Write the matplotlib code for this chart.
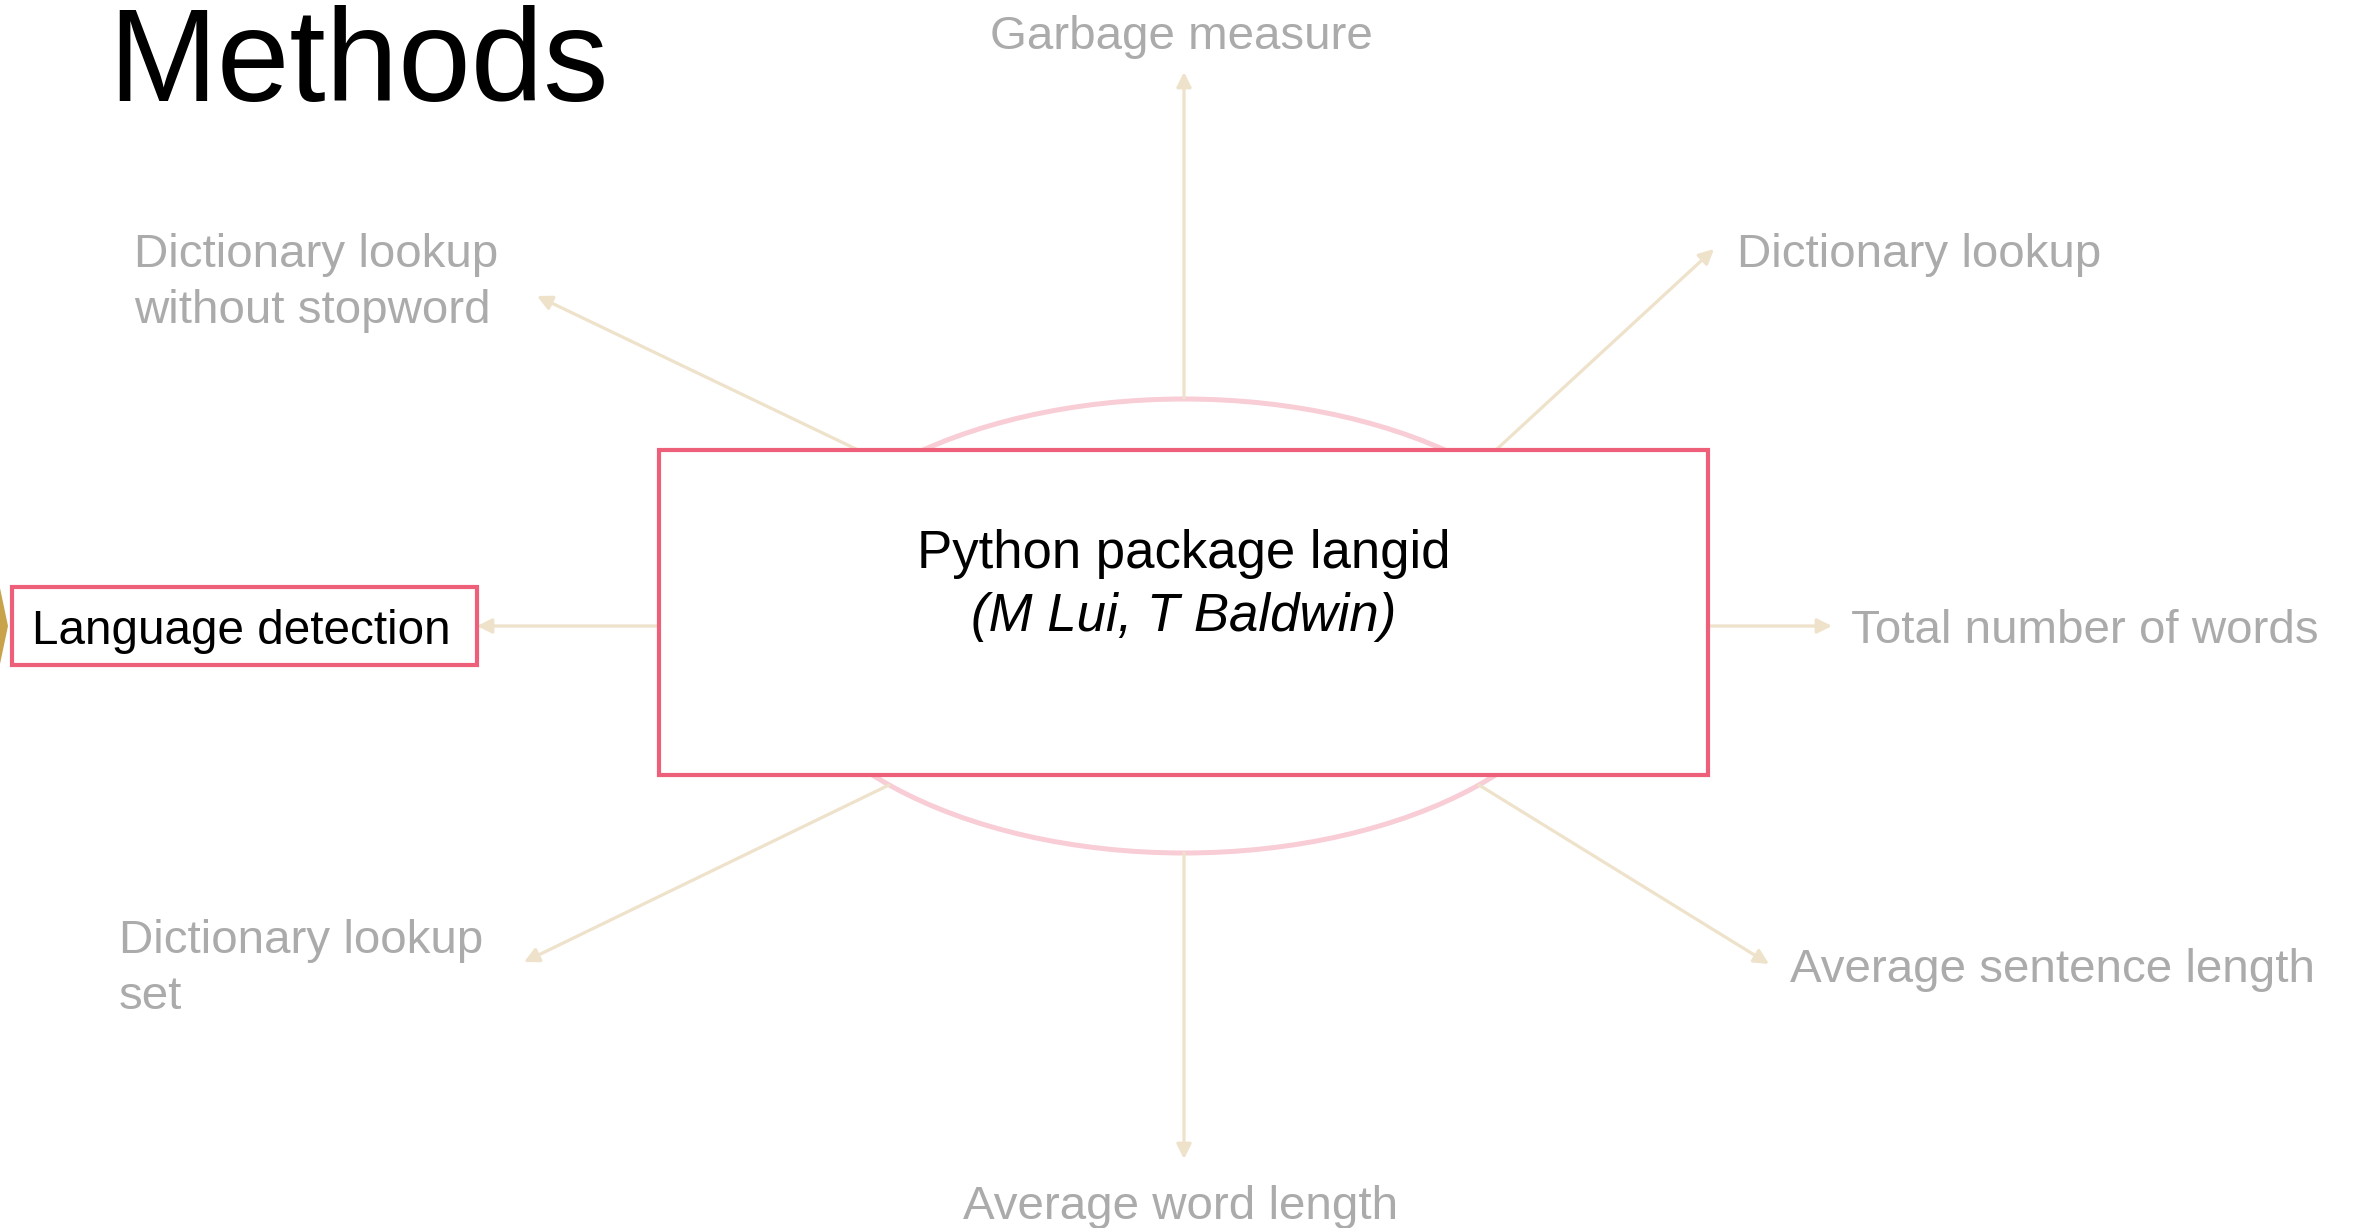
import matplotlib.pyplot as plt
from matplotlib.patches import Ellipse, Rectangle, Polygon

plt.rcParams['font.family'] = ['Liberation Sans', 'DejaVu Sans']

# canvas size in pixels
W, H = 2354, 1228

title = "Methods"
center_lines = ["Python package langid", "(M Lui, T Baldwin)"]
output_label = "Language detection"

# outer labels and where their arrows point (pixel coords, y downwards)
labels = [
    "Garbage measure",
    "Dictionary lookup",
    "Total number of words",
    "Average sentence length",
    "Average word length",
    "Dictionary lookup\nset",
    "Dictionary lookup\nwithout stopword",
]
label_xy = [(1181, 37), (1737, 255), (1851, 631), (1790, 970),
            (1181, 1207), (119, 969), (134, 283)]
label_ha = ["center", "left", "left", "left", "center", "left", "left"]

arrow_start = [(1184, 398), (1497, 449), (1708, 626), (1479, 785),
               (1184, 853), (889, 785), (856, 449)]
arrow_end = [(1184, 72), (1714, 249), (1832, 626), (1769, 964),
             (1184, 1159), (524, 962), (537, 296)]

box = (659, 450, 1049, 325)          # x, y, w, h
ellipse = (1184, 626, 826, 454)      # cx, cy, w, h
out_box = (12, 587, 465, 78)

pink = "#EE6079"
light_pink = "#F8CDD6"
beige = "#EEE2CA"
grey = "#ABABAB"
gold = "#C9A24C"

fig = plt.figure(figsize=(W / 100, H / 100), dpi=100)
ax = fig.add_axes([0, 0, 1, 1])
ax.set_xlim(0, W)
ax.set_ylim(H, 0)
ax.set_axis_off()

ax.add_patch(Ellipse(ellipse[:2], ellipse[2], ellipse[3], fill=False,
                     ec=light_pink, lw=3.6, zorder=1))

for (x0, y0), (x1, y1) in zip(arrow_start, arrow_end):
    ax.annotate("", xy=(x1, y1), xytext=(x0, y0),
                arrowprops=dict(arrowstyle='-|>', color=beige, lw=2.3,
                                mutation_scale=22, shrinkA=0, shrinkB=0),
                zorder=2)

# left arrow into the output box
ax.annotate("", xy=(out_box[0] + out_box[2], 626), xytext=(box[0], 626),
            arrowprops=dict(arrowstyle='-|>', color=beige, lw=2.3,
                            mutation_scale=22, shrinkA=0, shrinkB=0),
            zorder=2)

ax.add_patch(Rectangle(box[:2], box[2], box[3], fc='white', ec=pink,
                       lw=3.0, zorder=3))
ax.add_patch(Rectangle(out_box[:2], out_box[2], out_box[3], fc='white',
                       ec=pink, lw=3.0, zorder=3))
ax.add_patch(Polygon([(-20, 588), (0, 588), (8, 626), (0, 664), (-20, 664)],
                     closed=True, fc=gold, ec='none', zorder=3))

ax.text(108, 66, title, fontsize=94, ha='left', va='center', color='black')

cx = box[0] + box[2] / 2
ax.text(cx, 554, center_lines[0], fontsize=38, ha='center', va='center',
        color='black', zorder=4)
ax.text(cx, 617, center_lines[1], fontsize=38, ha='center', va='center',
        style='italic', color='black', zorder=4)

ax.text(32, 631, output_label, fontsize=34.3, ha='left', va='center',
        color='black', zorder=4)

for txt, (x, y), ha in zip(labels, label_xy, label_ha):
    ax.text(x, y, txt, fontsize=34.2, ha=ha, va='center', color=grey,
            linespacing=1.38, zorder=4)

fig.savefig("out.png", dpi=100)
